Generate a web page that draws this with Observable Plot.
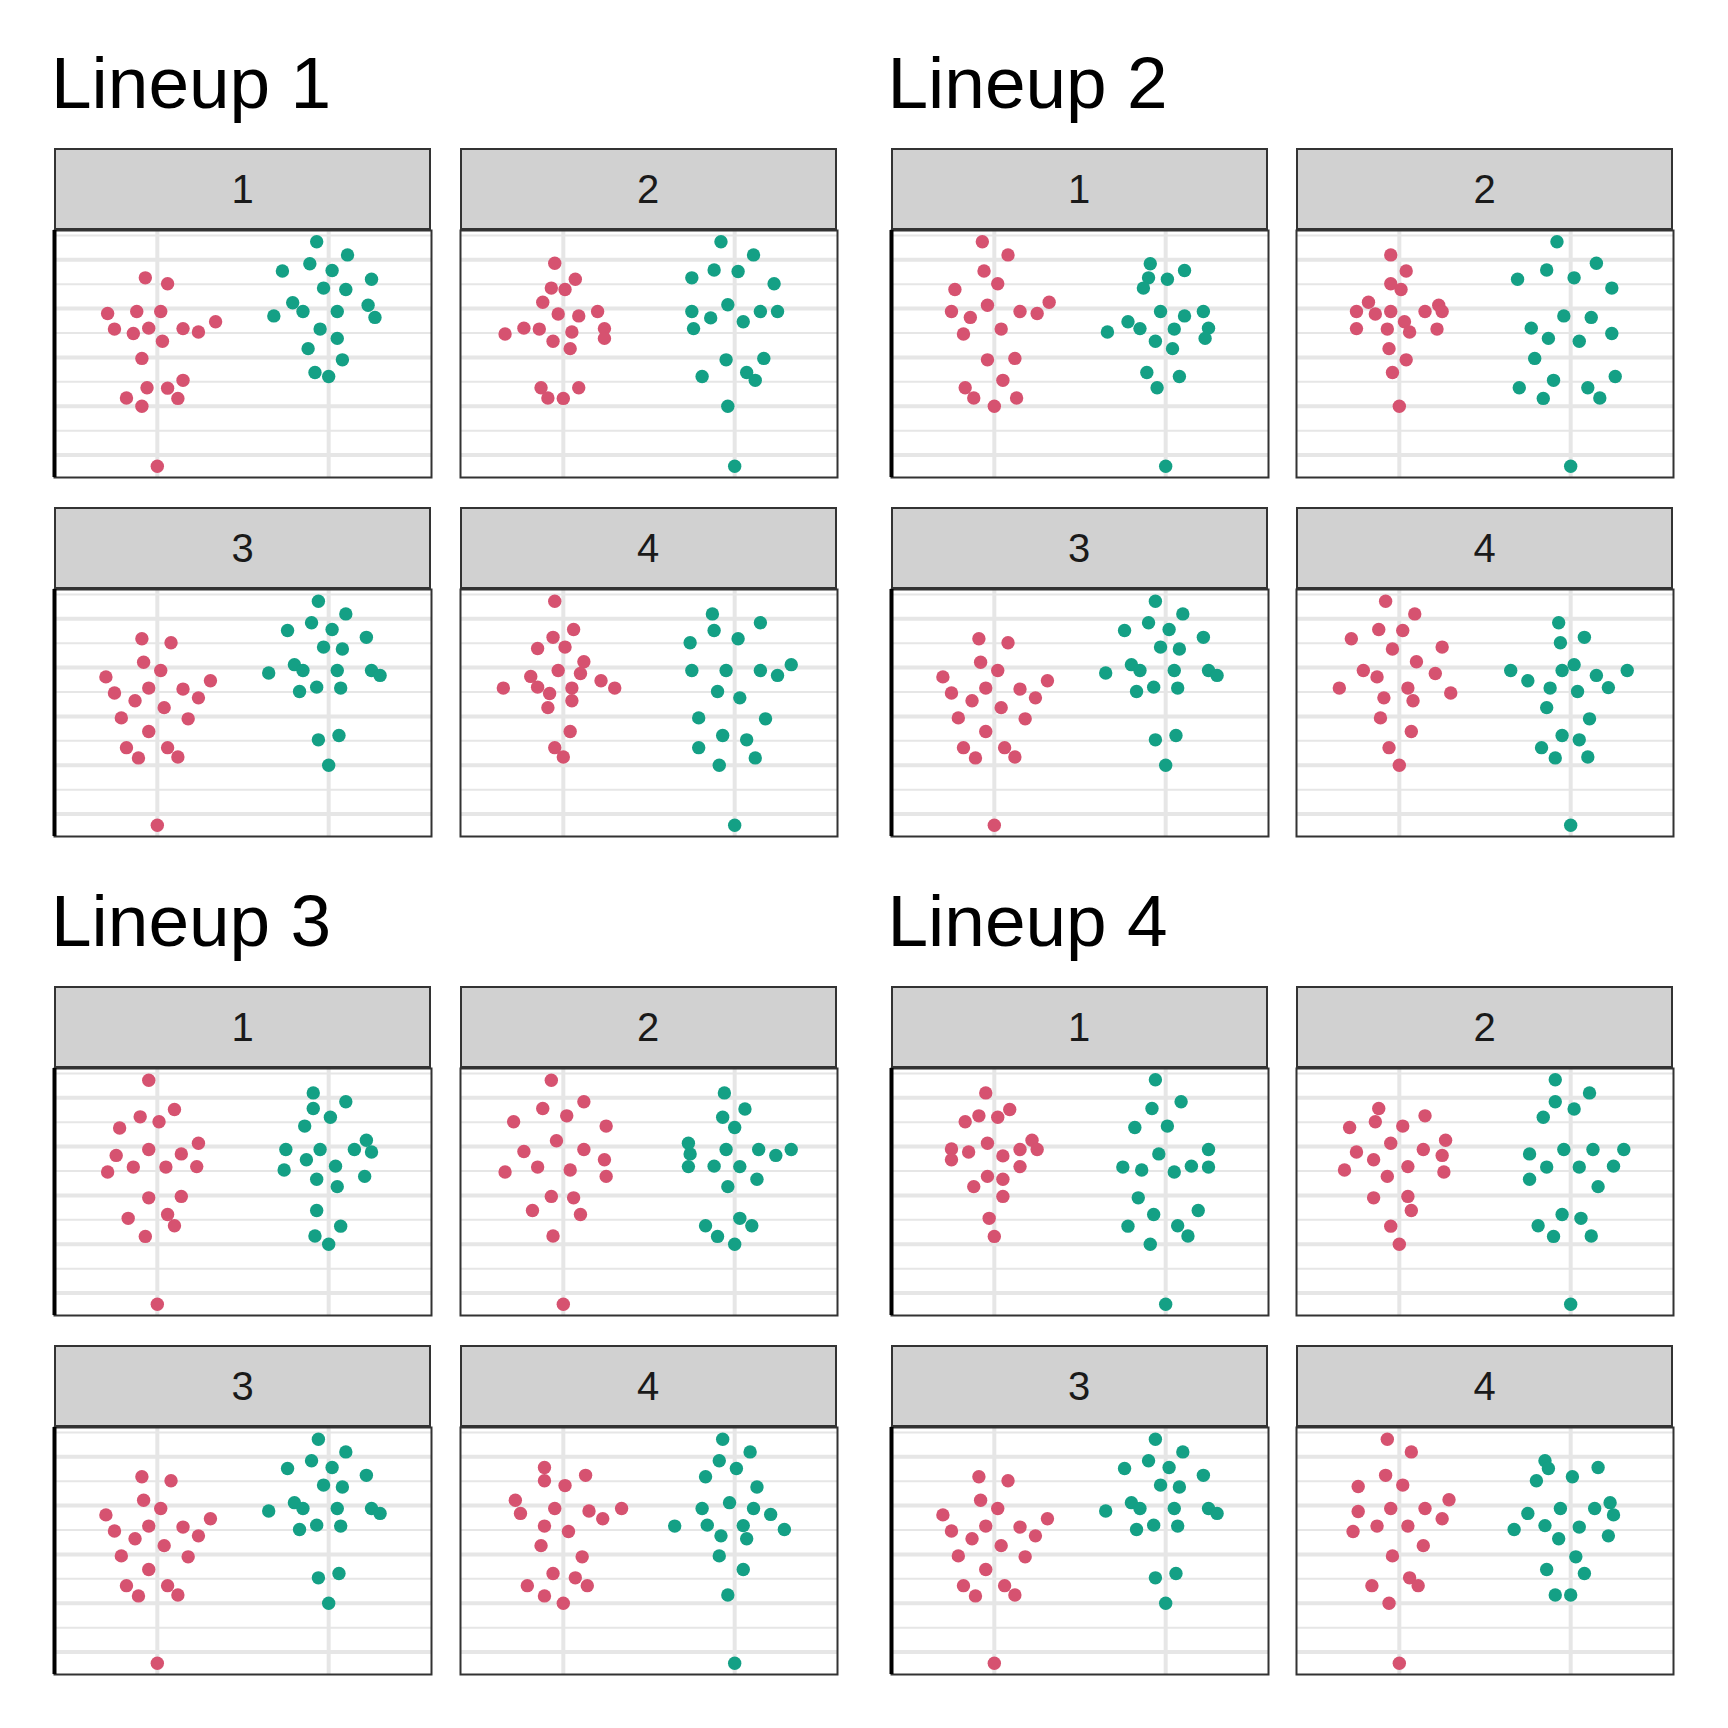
<!DOCTYPE html>
<html>
<head>
<meta charset="utf-8">
<script src="https://cdn.jsdelivr.net/npm/d3@7"></script>
<script src="https://cdn.jsdelivr.net/npm/@observablehq/plot@0.6"></script>
<style>
  html, body { margin: 0; padding: 0; background: #ffffff; }
  #root { position: relative; width: 1728px; height: 1728px; background: #ffffff; overflow: hidden;
          font-family: "Liberation Sans", Arial, Helvetica, sans-serif; }
  .title { position: absolute; font-size: 73px; line-height: 1; color: #000; white-space: nowrap; }
  .strip { position: absolute; box-sizing: border-box; background: #D1D1D1; border: 2px solid #333333;
           display: flex; align-items: center; justify-content: center; font-size: 40px; line-height: 1; color: #1A1A1A; }
  svg.panel { position: absolute; }
</style>
</head>
<body>
<div id="root"></div>
<script>
// ---------------- DATA ----------------
const lineupTitles = ["Lineup 1", "Lineup 2", "Lineup 3", "Lineup 4"];
const panelLabels = ["1", "2", "3", "4"];
const groupColors = ["#D65270", "#14A085"];
const yMajor = [0, 10, 20, 30, 40];
const yMinor = [5, 15, 25, 35, 45];
// each point: [value, horizontal swarm offset (in category units)]
const L1P1_red = [[36.3,-0.07],[35.1,0.06],[29.0,-0.29],[29.4,-0.12],[29.4,0.02],[25.8,-0.25],[24.9,-0.14],[26.0,-0.05],[25.9,0.15],[25.2,0.24],[27.3,0.34],[23.3,0.03],[19.8,-0.09],[15.3,0.15],[13.8,-0.06],[13.7,0.06],[11.7,-0.18],[11.6,0.12],[10.0,-0.09],[-2.3,0]];
const L1P1_teal = [[43.7,-0.07],[41.0,0.11],[39.2,-0.11],[37.7,-0.27],[37.8,0.02],[36.0,0.25],[34.2,-0.03],[33.9,0.10],[31.2,-0.21],[29.4,-0.15],[29.4,0.05],[30.7,0.23],[28.5,-0.32],[28.2,0.27],[25.8,-0.05],[23.9,0.05],[21.8,-0.12],[19.5,0.08],[16.9,-0.08],[16.1,0]];
const L1P2_red = [[39.3,-0.05],[36.0,0.07],[34.2,-0.07],[33.9,0.01],[31.3,-0.12],[28.9,-0.03],[28.5,0.09],[29.4,0.20],[24.8,-0.34],[26.0,-0.23],[25.8,-0.14],[25.2,0.05],[25.9,0.24],[23.9,0.24],[23.3,-0.06],[21.8,0.04],[13.8,-0.13],[13.8,0.09],[11.7,-0.09],[11.6,0]];
const L1P2_teal = [[43.7,-0.08],[41.0,0.11],[37.9,-0.12],[37.6,0.02],[36.3,-0.25],[35.1,0.23],[30.8,-0.04],[29.4,-0.25],[29.4,0.15],[29.4,0.25],[28.1,-0.14],[27.3,0.05],[25.9,-0.24],[19.5,-0.05],[19.8,0.17],[16.1,-0.19],[16.9,0.07],[15.3,0.12],[10.0,-0.04],[-2.3,0]];
const P3_red = [[35.9,-0.09],[35.1,0.08],[31.1,-0.08],[29.4,0.02],[28.1,-0.30],[27.3,0.31],[24.8,-0.25],[25.8,-0.05],[25.6,0.15],[23.2,-0.13],[23.8,0.24],[21.8,0.04],[19.7,-0.21],[19.5,0.18],[16.9,-0.05],[13.6,-0.18],[13.6,0.06],[11.5,-0.11],[11.7,0.12],[-2.3,0]];
const P3_teal = [[43.6,-0.06],[41.0,0.10],[39.2,-0.10],[37.6,-0.24],[37.8,0.02],[36.2,0.22],[34.2,-0.03],[33.8,0.08],[30.6,-0.20],[29.4,-0.15],[29.4,0.05],[29.4,0.25],[28.4,0.30],[28.9,-0.35],[25.1,-0.17],[26.0,-0.07],[25.8,0.07],[15.2,-0.06],[16.1,0.06],[10.0,0]];
const L1P4_red = [[43.6,-0.05],[37.8,0.06],[36.2,-0.06],[33.9,-0.15],[34.2,0.01],[31.2,0.12],[29.4,-0.03],[28.8,0.10],[28.2,-0.19],[27.3,0.22],[25.8,-0.35],[26.0,-0.15],[24.7,-0.08],[25.8,0.05],[25.8,0.30],[23.2,0.05],[21.8,-0.09],[16.9,0.04],[13.6,-0.05],[11.7,0]];
const L1P4_teal = [[41.0,-0.13],[39.2,0.15],[37.6,-0.12],[35.9,0.02],[35.1,-0.26],[29.4,-0.25],[29.4,-0.05],[29.4,0.15],[30.6,0.33],[28.4,0.25],[25.1,-0.10],[23.8,0.03],[19.7,-0.21],[19.5,0.18],[16.1,-0.07],[15.2,0.07],[13.6,-0.21],[11.5,0.12],[10.0,-0.09],[-2.3,0]];
const L2P1_red = [[43.7,-0.07],[41.0,0.08],[37.7,-0.06],[35.1,0.02],[33.9,-0.23],[30.7,-0.04],[31.3,0.32],[29.4,-0.25],[28.2,-0.14],[29.4,0.15],[29.0,0.25],[24.8,-0.18],[25.8,0.04],[19.5,-0.04],[19.8,0.12],[15.3,0.05],[13.8,-0.17],[11.7,-0.12],[11.7,0.13],[10.0,0]];
const L2P1_teal = [[39.2,-0.09],[37.8,0.11],[36.3,-0.10],[36.0,0.01],[34.2,-0.13],[29.4,-0.03],[28.5,0.11],[29.4,0.22],[27.3,-0.22],[25.9,-0.15],[25.8,0.05],[26.0,0.25],[25.2,-0.34],[23.9,0.23],[23.3,-0.06],[21.8,0.04],[16.9,-0.11],[16.1,0.08],[13.8,-0.05],[-2.3,0]];
const L2P2_red = [[41.0,-0.05],[37.7,0.04],[35.1,-0.05],[33.9,0.01],[31.3,-0.18],[29.4,-0.25],[28.9,-0.14],[29.4,-0.05],[29.4,0.15],[30.7,0.23],[29.4,0.25],[27.3,0.03],[25.9,-0.25],[25.8,-0.07],[25.2,0.06],[25.8,0.22],[21.8,-0.06],[19.5,0.04],[16.9,-0.04],[10.0,0]];
const L2P2_teal = [[43.7,-0.08],[39.3,0.15],[37.9,-0.14],[36.0,-0.31],[36.3,0.02],[34.2,0.24],[28.5,-0.04],[28.2,0.12],[26.0,-0.23],[24.9,0.24],[23.9,-0.13],[23.3,0.05],[19.8,-0.21],[15.3,-0.10],[16.1,0.26],[13.8,-0.30],[13.8,0.10],[11.6,-0.16],[11.7,0.17],[-2.3,0]];
const L2P4_red = [[43.6,-0.08],[41.0,0.09],[37.8,-0.12],[37.6,0.02],[35.9,-0.28],[33.8,-0.04],[34.2,0.25],[31.2,0.10],[29.4,-0.21],[28.1,-0.13],[28.8,0.21],[25.8,-0.35],[25.8,0.05],[24.8,0.30],[23.8,-0.09],[23.2,0.08],[19.7,-0.11],[16.9,0.07],[13.6,-0.06],[10.0,0]];
const L2P4_teal = [[39.2,-0.07],[36.2,0.08],[35.1,-0.06],[30.6,0.02],[29.4,-0.35],[29.4,-0.05],[28.4,0.15],[29.4,0.33],[27.3,-0.25],[25.8,-0.12],[25.1,0.04],[25.9,0.22],[21.8,-0.14],[19.5,0.11],[16.1,-0.05],[15.2,0.05],[13.6,-0.17],[11.5,-0.09],[11.7,0.10],[-2.3,0]];
const L3P1_red = [[43.6,-0.05],[37.6,0.10],[36.1,-0.10],[35.1,0.01],[33.8,-0.22],[30.7,0.24],[29.4,-0.05],[28.5,0.14],[28.2,-0.24],[25.8,-0.14],[25.8,0.05],[25.9,0.23],[24.8,-0.29],[19.5,-0.05],[19.8,0.14],[16.1,0.06],[15.3,-0.17],[13.8,0.10],[11.6,-0.07],[-2.3,0]];
const L3P1_teal = [[41.0,-0.09],[39.2,0.10],[37.8,-0.09],[36.0,0.01],[34.2,-0.14],[31.3,0.22],[29.4,-0.25],[29.4,-0.05],[29.4,0.15],[28.9,0.25],[27.3,-0.13],[25.2,-0.26],[26.0,0.04],[23.3,-0.07],[23.9,0.21],[21.8,0.05],[16.9,-0.07],[13.7,0.07],[11.7,-0.08],[10.0,0]];
const L3P2_red = [[43.6,-0.07],[39.2,0.12],[37.8,-0.12],[36.3,0.02],[35.1,-0.29],[34.2,0.25],[31.2,-0.04],[29.0,-0.23],[29.4,0.12],[27.3,0.24],[24.8,-0.34],[25.8,-0.15],[25.2,0.04],[23.9,0.25],[19.8,-0.07],[19.5,0.06],[16.9,-0.18],[16.1,0.10],[11.7,-0.06],[-2.3,0]];
const L3P2_teal = [[41.0,-0.06],[37.7,0.06],[36.0,-0.07],[33.9,0],[30.7,-0.27],[28.5,-0.26],[29.4,-0.05],[29.4,0.14],[29.4,0.33],[28.2,0.24],[25.9,-0.27],[26.0,-0.12],[25.9,0.03],[23.3,0.13],[21.8,-0.04],[15.3,0.03],[13.8,-0.17],[13.8,0.10],[11.6,-0.10],[10.0,0]];
const L3P4_red = [[37.8,-0.11],[36.2,0.13],[35.1,-0.11],[34.1,0.01],[31.1,-0.28],[29.4,-0.05],[29.4,0.34],[28.4,-0.25],[28.9,0.15],[27.3,0.23],[25.8,-0.11],[24.7,0.03],[21.8,-0.13],[19.5,0.11],[16.1,-0.06],[15.2,0.07],[13.6,-0.21],[13.6,0.14],[11.5,-0.11],[10.0,0]];
const L3P4_teal = [[43.6,-0.07],[41.0,0.09],[39.2,-0.09],[37.6,0.01],[35.9,-0.17],[33.8,0.13],[30.6,-0.03],[29.4,-0.19],[29.4,0.11],[28.2,0.21],[25.8,-0.35],[26.0,-0.16],[25.9,0.05],[25.1,0.29],[23.8,-0.08],[23.2,0.07],[19.7,-0.09],[16.9,0.05],[11.7,-0.04],[-2.3,0]];
const L4P1_red = [[41.0,-0.05],[37.6,0.09],[36.3,-0.09],[36.0,0.02],[35.1,-0.17],[31.3,0.22],[30.7,-0.04],[29.5,-0.25],[29.4,0.15],[29.4,0.25],[28.9,-0.15],[28.1,0.05],[27.3,-0.25],[25.9,0.15],[23.9,-0.04],[23.3,0.05],[21.8,-0.12],[19.8,0.05],[15.3,-0.03],[11.6,0]];
const L4P1_teal = [[43.7,-0.06],[39.2,0.09],[37.8,-0.08],[33.9,-0.18],[34.2,0.01],[29.4,0.25],[28.5,-0.04],[25.8,-0.25],[25.2,-0.14],[24.8,0.05],[26.0,0.15],[25.8,0.25],[19.5,-0.16],[16.9,0.19],[16.1,-0.07],[13.7,-0.22],[13.8,0.07],[11.7,0.13],[10.0,-0.09],[-2.3,0]];
const L4P2_red = [[37.8,-0.12],[36.3,0.15],[35.1,-0.14],[33.9,-0.29],[34.2,0.02],[31.3,0.27],[30.7,-0.05],[28.9,-0.25],[29.4,0.14],[28.2,0.25],[27.3,-0.15],[25.2,-0.32],[25.9,0.05],[24.8,0.26],[23.9,-0.07],[19.5,-0.15],[19.8,0.05],[16.9,0.07],[13.7,-0.05],[10.0,0]];
const L4P2_teal = [[43.7,-0.09],[41.0,0.11],[39.2,-0.09],[37.7,0.02],[36.0,-0.16],[29.4,-0.04],[29.4,0.13],[29.4,0.31],[28.5,-0.24],[25.8,-0.14],[25.8,0.05],[26.0,0.25],[23.3,-0.24],[21.8,0.16],[16.1,-0.05],[15.3,0.06],[13.8,-0.19],[11.6,-0.10],[11.7,0.12],[-2.3,0]];
const L4P4_red = [[43.6,-0.07],[41.0,0.07],[36.2,-0.08],[33.9,-0.24],[34.2,0.02],[31.2,0.29],[28.8,-0.24],[29.4,-0.05],[29.4,0.15],[27.3,0.25],[25.8,-0.13],[25.8,0.05],[24.7,-0.27],[21.8,0.14],[19.7,-0.04],[15.2,0.06],[13.6,0.11],[13.6,-0.16],[10.0,-0.06],[-2.3,0]];
const L4P4_teal = [[39.2,-0.15],[37.6,-0.13],[37.8,0.16],[35.9,0.01],[35.1,-0.20],[30.6,0.23],[29.4,-0.06],[29.4,0.14],[28.4,-0.25],[28.1,0.25],[25.1,-0.33],[25.9,-0.15],[25.6,0.05],[23.8,0.22],[23.2,-0.07],[19.5,0.03],[16.9,-0.14],[16.1,0.08],[11.7,-0.09],[11.7,0]];

const lineupPanels = [
  [[L1P1_red, L1P1_teal], [L1P2_red, L1P2_teal], [P3_red, P3_teal], [L1P4_red, L1P4_teal]],
  [[L2P1_red, L2P1_teal], [L2P2_red, L2P2_teal], [P3_red, P3_teal], [L2P4_red, L2P4_teal]],
  [[L3P1_red, L3P1_teal], [L3P2_red, L3P2_teal], [P3_red, P3_teal], [L3P4_red, L3P4_teal]],
  [[L4P1_red, L4P1_teal], [L4P2_red, L4P2_teal], [P3_red, P3_teal], [L4P4_red, L4P4_teal]]
];

// ---------------- LAYOUT ----------------
const root = document.getElementById("root");
const blockX = [54, 890.5];
const blockY = [147.7, 985.5];
const panelW = 377, panelGap = 28.5, stripH = 82, plotH = 247, rowGap = 30;
const pad = 3;
const xDomain = [0.4, 2.6];
const yDomain = [-4.6, 46];

function panelPlot(groups, isLeft) {
  const marks = [
    Plot.ruleY(yMinor, {stroke: "#E6E6E6", strokeWidth: 2}),
    Plot.ruleY(yMajor, {stroke: "#E6E6E6", strokeWidth: 4}),
    Plot.ruleX([1, 2], {stroke: "#E6E6E6", strokeWidth: 4})
  ];
  groups.forEach((pts, gi) => {
    marks.push(Plot.dot(pts, {x: d => gi + 1 + d[1], y: d => d[0], r: 6.7, fill: groupColors[gi], stroke: null}));
  });
  marks.push(Plot.frame({stroke: "#333333", strokeWidth: 2}));
  if (isLeft) marks.push(Plot.ruleX([xDomain[0]], {stroke: "#000000", strokeWidth: 4}));
  return Plot.plot({
    width: panelW + 2 * pad,
    height: plotH + 2 * pad,
    margin: pad,
    x: {domain: xDomain, axis: null},
    y: {domain: yDomain, axis: null},
    style: {background: "transparent", overflow: "visible"},
    marks
  });
}

lineupTitles.forEach((title, li) => {
  const bx = blockX[li % 2];
  const by = blockY[Math.floor(li / 2)];
  const t = document.createElement("div");
  t.className = "title";
  t.textContent = title;
  t.style.left = (bx - 3) + "px";
  t.style.top = (by - 40 - 61.8) + "px";
  root.appendChild(t);

  lineupPanels[li].forEach((groups, pi) => {
    const col = pi % 2, row = Math.floor(pi / 2);
    const px = bx + col * (panelW + panelGap);
    const py = by + row * (stripH + plotH + rowGap);
    const s = document.createElement("div");
    s.className = "strip";
    s.textContent = panelLabels[pi];
    s.style.left = px + "px";
    s.style.top = py + "px";
    s.style.width = panelW + "px";
    s.style.height = stripH + "px";
    root.appendChild(s);

    const svg = panelPlot(groups, col === 0);
    svg.classList.add("panel");
    svg.style.left = (px - pad) + "px";
    svg.style.top = (py + stripH - pad) + "px";
    root.appendChild(svg);
  });
});
</script>
</body>
</html>
